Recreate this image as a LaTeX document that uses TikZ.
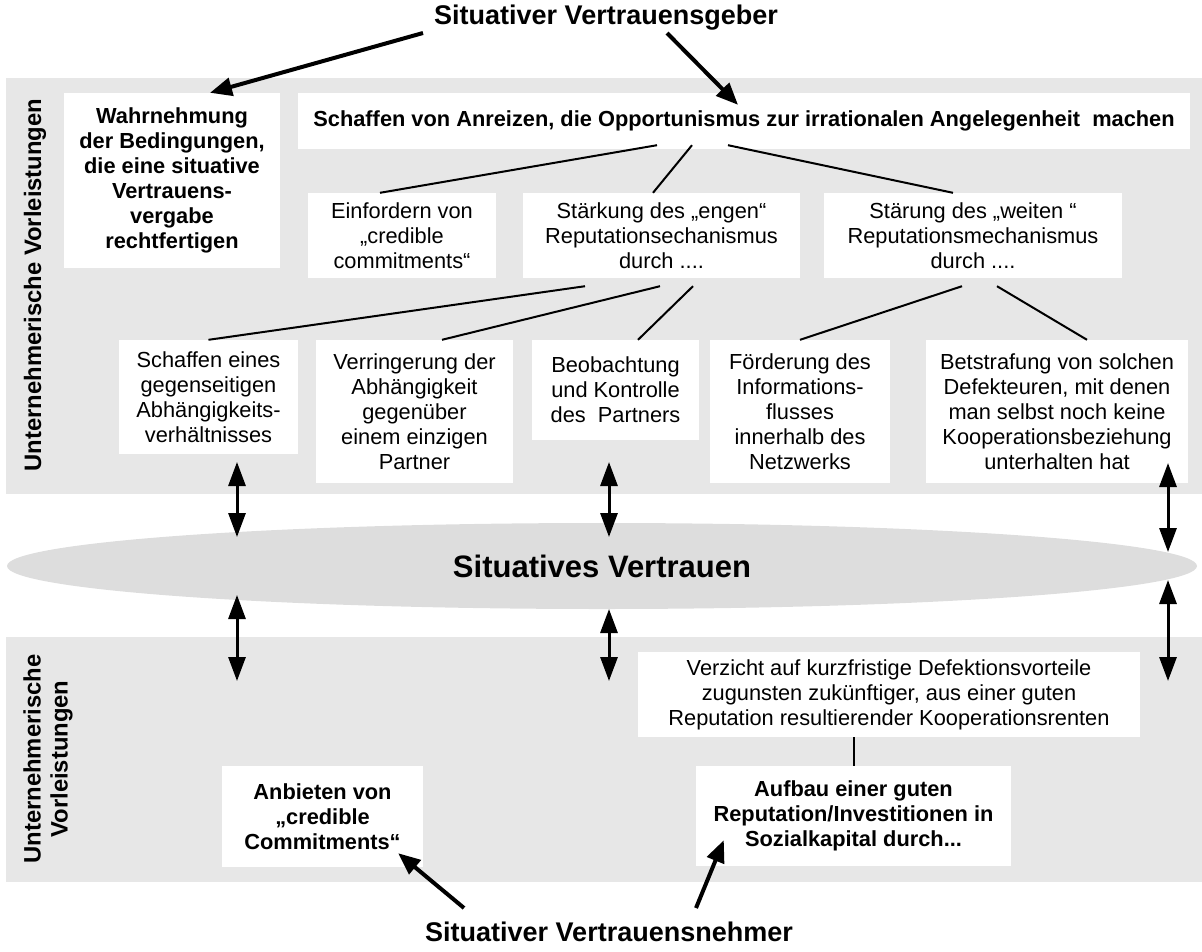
\documentclass[tikz,border=0pt]{standalone}
\usepackage{fontspec}
\setmainfont{Liberation Sans}
\usetikzlibrary{arrows.meta,shapes.geometric}
\definecolor{bandgrey}{RGB}{231,231,231}
\definecolor{ovalgrey}{RGB}{221,221,221}

\begin{document}
\begin{tikzpicture}[x=1pt,y=-1pt,
  box/.style={fill=white, inner sep=0pt, align=center,
    font=\fontsize{21.8}{25}\selectfont},
  boldbox/.style={box, font=\fontsize{21.8}{25}\selectfont\bfseries},
  heading/.style={inner sep=0pt, font=\fontsize{27}{30}\selectfont\bfseries},
  sidelabel/.style={inner sep=0pt, rotate=90, align=center,
    font=\fontsize{23.8}{27}\selectfont\bfseries},
  link/.style={line width=2pt},
  pointer/.style={line width=4pt, -{Triangle[length=22pt,width=18pt]}},
  twoway/.style={line width=3pt,
    {Triangle[length=24pt,width=17pt]}-{Triangle[length=24pt,width=17pt]}}
]
\useasboundingbox (0,0) rectangle (1202,951);

% background bands
\fill[bandgrey] (6,78) rectangle (1202,494);
\fill[bandgrey] (6,637) rectangle (1202,882);

% central trust ellipse
\node (trust) [ellipse, fill=ovalgrey, inner sep=0pt, minimum width=1190pt,
  minimum height=86pt, font=\fontsize{31}{34}\selectfont\bfseries]
  at (602,566) {Situatives Vertrauen};

% headings
\node (giver) [heading] at (606,18) {Situativer Vertrauensgeber};
\node (taker) [heading] at (609,932) {Situativer Vertrauensnehmer};

% side labels
\node (upperlabel) [sidelabel] at (35,285) {Unternehmerische Vorleistungen};
\node (lowerlabel) [sidelabel] at (48,759) {Unternehmerische\\Vorleistungen};

% upper band boxes
\node (wahr) [boldbox, minimum width=216pt, minimum height=175pt] at (172,180.5)
  {Wahrnehmung\\der Bedingungen,\\die eine situative\\Vertrauens-\\vergabe\\rechtfertigen};
\node (anreiz) [boldbox, minimum width=892pt, minimum height=56pt] at (744,121)
  {Schaffen von Anreizen, die Opportunismus zur irrationalen Angelegenheit~ machen};
\node (einf) [box, minimum width=188pt, minimum height=85pt] at (402,235.5)
  {Einfordern von\\„credible\\commitments“};
\node (staerk) [box, minimum width=277pt, minimum height=85pt] at (661.5,235.5)
  {Stärkung des „engen“\\Reputationsechanismus\\durch ....};
\node (stoer) [box, minimum width=298pt, minimum height=85pt] at (973,235.5)
  {Stärung des „weiten “\\Reputationsmechanismus\\durch ....};
\node (gegen) [box, minimum width=179pt, minimum height=114pt] at (208.5,397)
  {Schaffen eines\\gegenseitigen\\Abhängigkeits-\\verhältnisses};
\node (verr) [box, minimum width=197pt, minimum height=143pt] at (414.5,411.5)
  {Verringerung der\\Abhängigkeit\\gegenüber\\einem einzigen\\Partner};
\node (beob) [box, minimum width=167pt, minimum height=100pt] at (615.5,390)
  {Beobachtung\\und Kontrolle\\des~ Partners};
\node (foerd) [box, minimum width=180pt, minimum height=143pt] at (800,411.5)
  {Förderung des\\Informations-\\flusses\\innerhalb des\\Netzwerks};
\node (bestr) [box, minimum width=262pt, minimum height=143pt] at (1057,411.5)
  {Betstrafung von solchen\\Defekteuren, mit denen\\man selbst noch keine\\Kooperationsbeziehung\\unterhalten hat};

% lower band boxes
\node (verz) [box, minimum width=502pt, minimum height=85pt] at (889,694.5)
  {Verzicht auf kurzfristige Defektionsvorteile\\zugunsten zukünftiger, aus einer guten\\Reputation resultierender Kooperationsrenten};
\node (aufbau) [boldbox, minimum width=315pt, minimum height=100pt] at (853.5,816)
  {Aufbau einer guten\\Reputation/Investitionen in\\Sozialkapital durch...};
\node (anbiet) [boldbox, minimum width=201pt, minimum height=101pt] at (322.5,816.5)
  {Anbieten von\\„credible\\Commitments“};

% tree connectors
\draw[link] ([xshift=-87pt,yshift=4pt]anreiz.south) -- ([xshift=-22pt]einf.north);
\draw[link] ([xshift=-52pt,yshift=4pt]anreiz.south) -- ([xshift=-8.5pt]staerk.north);
\draw[link] ([xshift=-16pt,yshift=4pt]anreiz.south) -- ([xshift=-20pt]stoer.north);
\draw[link] ([xshift=-76.5pt,yshift=-8pt]staerk.south) -- (gegen.north);
\draw[link] ([xshift=-1.5pt,yshift=-8pt]staerk.south) -- ([xshift=27.5pt]verr.north);
\draw[link] ([xshift=31.5pt,yshift=-8pt]staerk.south) -- ([xshift=22.5pt]beob.north);
\draw[link] ([xshift=-11pt,yshift=-8pt]stoer.south) -- (foerd.north);
\draw[link] ([xshift=24pt,yshift=-8pt]stoer.south) -- ([xshift=30pt]bestr.north);
\draw[link] (verz.south -| aufbau.north) -- (aufbau.north);

% arrows from and to the two actors
\coordinate (giverL) at (423,33);
\coordinate (giverR) at (667,33);
\coordinate (takerL) at (464,908);
\coordinate (takerR) at (696,908);
\draw[pointer] (giverL) -- ([xshift=38pt]wahr.north);
\draw[pointer] (giverR) -- ([xshift=-6pt,yshift=-12pt]anreiz.north);
\draw[pointer] (takerL) -- ([xshift=-25pt,yshift=14pt]anbiet.south east);
\draw[pointer] (takerR) -- ([xshift=28pt,yshift=26pt]aufbau.south west);

% two-way arrows through the trust ellipse
\coordinate (upA) at (237,462);
\coordinate (upB) at (609,462);
\coordinate (upC) at (1168,463);
\coordinate (midA1) at (237,537);
\coordinate (midB1) at (609,537);
\coordinate (midC1) at (1168,552);
\coordinate (midA2) at (237,595);
\coordinate (midB2) at (609,609);
\coordinate (midC2) at (1168,580);
\coordinate (lowA) at (237,681);
\coordinate (lowB) at (609,681);
\coordinate (lowC) at (1168,681);
\draw[twoway] (upA) -- (midA1);
\draw[twoway] (upB) -- (midB1);
\draw[twoway] (upC) -- (midC1);
\draw[twoway] (midA2) -- (lowA);
\draw[twoway] (midB2) -- (lowB);
\draw[twoway] (midC2) -- (lowC);
\end{tikzpicture}
\end{document}
